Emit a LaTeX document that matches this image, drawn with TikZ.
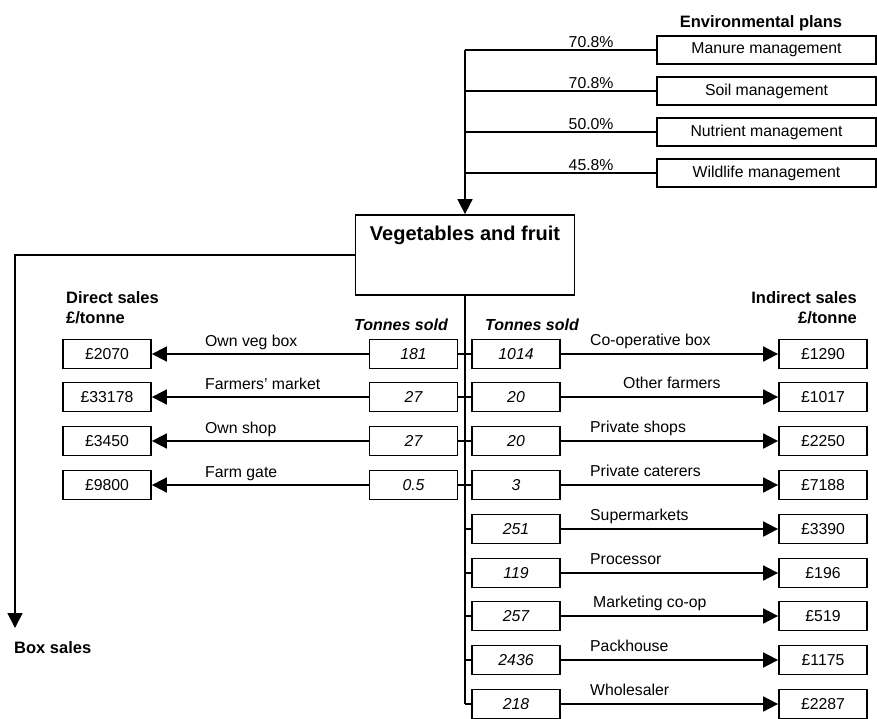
\documentclass[tikz,border=0pt]{standalone}
\usepackage{fontspec}
\setmainfont{Liberation Sans}
\usepackage{tikz}
\usetikzlibrary{arrows.meta,positioning}

\tikzset{
  txt/.style={font=\fontsize{15.8}{18}\selectfont, inner sep=0pt},
  head/.style={font=\fontsize{16.5}{20}\selectfont\bfseries, inner sep=0pt},
  sold/.style={font=\fontsize{16}{20}\selectfont\bfseries\itshape, inner sep=0pt},
  cell/.style={txt, draw, line width=1.8pt, minimum width=88pt, minimum height=29pt},
  tons/.style={cell, font=\fontsize{15.8}{18}\selectfont\itshape},
  plan/.style={cell, minimum width=219pt, minimum height=28pt},
  ln/.style={line width=1.8pt},
  arr/.style={line width=1.8pt, -{Triangle[length=15pt,width=15pt]}}
}

\begin{document}
\begin{tikzpicture}[x=1pt,y=-1pt]
\useasboundingbox (0,0) rectangle (877,719);

% Environmental plans
\node[head, anchor=north] (envhead) at (761,15) {Environmental plans};
\foreach \i/\y in {1/50,2/91,3/132,4/173}
{
\node[plan] (env\i) at (766.5,\y) {};
}
\node[txt] at (env1) {Manure management};
\node[txt] at (env2) {Soil management};
\node[txt] at (env3) {Nutrient management};
\node[txt] at (env4) {Wildlife management};

% Main box
\node[cell, minimum width=219pt, minimum height=80pt] (veg) at (465,255) {};
\node[font=\fontsize{20}{24}\selectfont\bfseries, inner sep=0pt, below=12pt of veg.north] (vegtitle) {Vegetables and fruit};

% Plans into main box
\foreach \i/\p in {1/70.8,2/70.8,3/50.0,4/45.8}
{
\draw[ln] (env\i.west) -- node[txt, pos=0.34, anchor=south, yshift=1pt] (pct\i) {\p\%} (env\i.west -| veg.north);
}
\draw[arr] (env1.west -| veg.north) -- (veg.north);

% Box sales
\node[head, anchor=base west] (boxsales) at (14,653) {Box sales};
\coordinate (boxtip) at (15,628);
\draw[arr] (veg.west) -| (boxtip);

% Headings
\node[head, align=left, anchor=north west] (direct) at (66,291) {Direct sales\\£/tonne};
\node[head, align=right, anchor=north east] (indirect) at (857,291) {Indirect sales\\£/tonne};
\node[sold, anchor=base east] (soldl) at (448,330) {Tonnes sold};
\node[sold, anchor=base west] (soldr) at (485,330) {Tonnes sold};

% Direct sales rows
\foreach \i/\t/\p/\r in {1/181/£2070/Own veg box, 2/27/£33178/Farmers' market, 3/27/£3450/Own shop, 4/0.5/£9800/Farm gate}
{
\pgfmathsetmacro\y{round(353.5+43.8*(\i-1))}
\node[cell] (pl\i) at (107,\y) {\p};
\node[tons] (tl\i) at (413.5,\y) {\t};
\node[txt, anchor=base west] (ll\i) at (205,\y-8) {\r};
\draw[arr] (tl\i) -- (pl\i);
}

% Indirect sales rows
\foreach \i/\t/\p/\x/\r in {1/1014/£1290/590/Co-operative box, 2/20/£1017/623/Other farmers, 3/20/£2250/590/Private shops, 4/3/£7188/590/Private caterers, 5/251/£3390/590/Supermarkets, 6/119/£196/590/Processor, 7/257/£519/593/Marketing co-op, 8/2436/£1175/590/Packhouse, 9/218/£2287/590/Wholesaler}
{
\pgfmathsetmacro\y{round(353.5+43.8*(\i-1))}
\node[tons] (tr\i) at (516,\y) {\t};
\node[cell] (pr\i) at (823,\y) {\p};
\node[txt, anchor=base west] (lr\i) at (\x,\y-9) {\r};
\draw[arr] (tr\i) -- (pr\i);
}

% Trunk below main box
\draw[ln] (veg.south) -- (tr9.west -| veg.south);
\foreach \i in {1,...,9}
{
\draw[ln] (tr\i.west) -- (tr\i.west -| veg.south);
}
\foreach \i in {1,...,4}
{
\draw[ln] (tl\i.east) -- (tl\i.east -| veg.south);
}

\end{tikzpicture}
\end{document}
